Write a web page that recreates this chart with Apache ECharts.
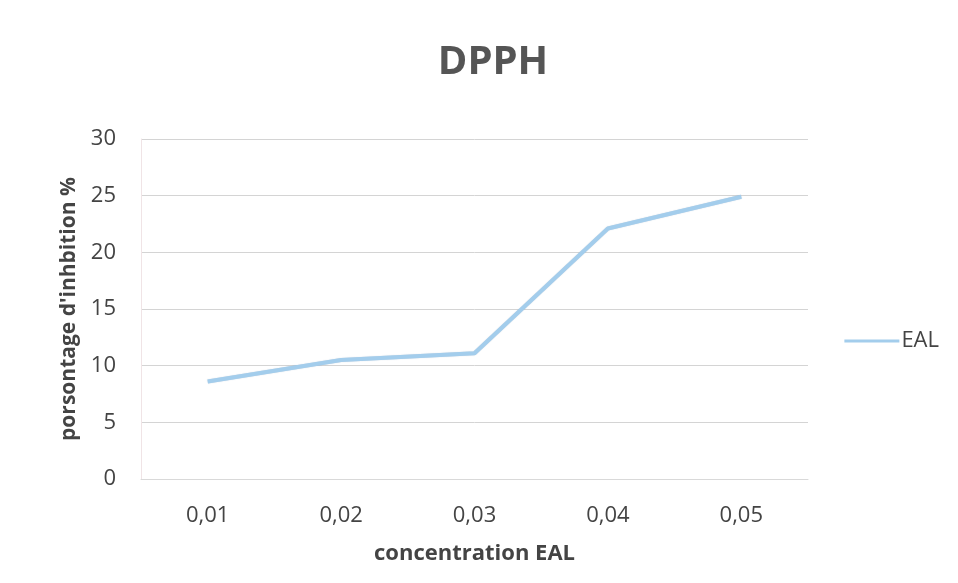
<!DOCTYPE html>
<html><head><meta charset="utf-8">
<script src="https://cdn.jsdelivr.net/npm/echarts@6/dist/echarts.min.js"></script>
<style>html,body{margin:0;padding:0;background:#fff}#c{width:958px;height:583px}</style>
</head><body><div id="c"></div>
<script>
const categories = ['0,01','0,02','0,03','0,04','0,05'];
const eal = [8.6, 10.5, 11.1, 22.1, 24.9];
const seriesName = 'EAL';
const titleText = 'DPPH';
const xTitle = 'concentration EAL';
const yTitle = "porsontage d'inhbition %";

const chart = echarts.init(document.getElementById('c'));
chart.setOption({
  backgroundColor: '#fff',
  animation: false,
  title: { text: titleText, left: 488, top: 38, textAlign: 'center',
    textStyle: { fontFamily: 'Open Sans', fontSize: 40, fontWeight: 'bold', color: '#555' } },
  legend: { data: [seriesName], right: 14, top: 325, orient: 'vertical', itemWidth: 55, itemHeight: 14, itemGap: 4,
    textStyle: { fontFamily: 'Open Sans', fontSize: 22, color: '#444', padding: [0,0,0,-3] }, icon: 'path://M0,6 L55,6 L55,9 L0,9 Z' },
  grid: { left: 141, right: 150, top: 139, bottom: 104, containLabel: false },
  xAxis: { type: 'category', data: categories, boundaryGap: true,
    name: xTitle, nameLocation: 'middle', nameGap: 64,
    nameTextStyle: { fontFamily: 'Open Sans', fontSize: 22, fontWeight: 'bold', color: '#444' },
    axisLine: { show: true, lineStyle: { color: '#d9d9d9', width: 1 } },
    axisTick: { show: false },
    axisLabel: { fontFamily: 'Open Sans', fontSize: 22, color: '#444', margin: 26 } },
  yAxis: { type: 'value', min: 0, max: 30, interval: 5,
    name: yTitle, nameLocation: 'middle', nameGap: 61, nameRotate: 90,
    nameTextStyle: { fontFamily: 'Open Sans', fontSize: 21, fontWeight: 'bold', color: '#444' },
    axisLine: { show: true, lineStyle: { color: '#f0e4e6', width: 1 } },
    axisTick: { show: false },
    axisLabel: { fontFamily: 'Open Sans', fontSize: 22, color: '#444', margin: 25 },
    splitLine: { lineStyle: { color: '#d4d4d4', width: 1 } } },
  series: [{ name: seriesName, type: 'line', data: eal, symbol: 'none',
    lineStyle: { color: '#a3cdec', width: 4, shadowColor: 'rgba(80,120,160,0.35)', shadowBlur: 1 },
    itemStyle: { color: '#a3cdec' } }]
});
</script></body></html>
